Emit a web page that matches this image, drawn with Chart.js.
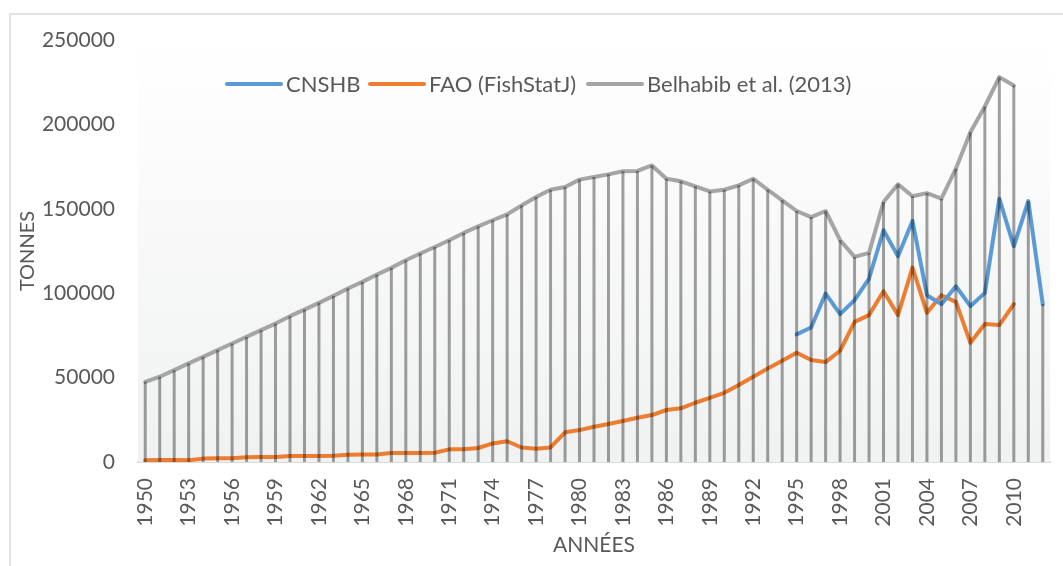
<!DOCTYPE html>
<html>
<head>
<meta charset="utf-8">
<script src="https://cdn.jsdelivr.net/npm/chart.js@4/dist/chart.umd.min.js"></script>
<style>
  html, body { margin: 0; padding: 0; background: #fff; }
  #wrap { position: relative; width: 1063px; height: 566px; overflow: hidden; }
  #frame { position: absolute; left: 9px; top: 13px; width: 1100px; height: 600px;
           border-left: 2px solid #e3e3e3; border-top: 2px solid #e3e3e3; }
  #chart { position: absolute; left: 0; top: 0; }
</style>
</head>
<body>
<div id="wrap">
  <div id="frame"></div>
  <canvas id="chart" width="1063" height="566"></canvas>
</div>
<script>
// Years on the x axis
const years = [
  '1950','1951','1952','1953','1954','1955','1956','1957','1958','1959',
  '1960','1961','1962','1963','1964','1965','1966','1967','1968','1969',
  '1970','1971','1972','1973','1974','1975','1976','1977','1978','1979',
  '1980','1981','1982','1983','1984','1985','1986','1987','1988','1989',
  '1990','1991','1992','1993','1994','1995','1996','1997','1998','1999',
  '2000','2001','2002','2003','2004','2005','2006','2007','2008','2009',
  '2010','2011','2012'
];

// Belhabib et al. (2013), 1950 -> 2010
const belhabib = [
  47500, 50500, 54400, 58400, 62300, 66300, 70200, 74100, 78100, 82000,
  86400, 90300, 94300, 98400, 102800, 106700, 111000, 115000, 119500, 123500,
  127400, 131400, 135700, 139600, 143200, 146700, 152000, 157000, 161300, 162900,
  167300, 168800, 170400, 172200, 172400, 175700, 167800, 166300, 163300, 160300,
  161300, 163900, 167800, 161300, 155000, 148700, 145100, 148700, 131400, 121500,
  123900, 154000, 164500, 157400, 159300, 156000, 173800, 195400, 210600, 228000,
  223100
];

// FAO (FishStatJ), 1950 -> 2010
const fao = [
  1000, 1200, 1200, 1000, 2000, 2200, 2200, 2800, 2900, 2900,
  3500, 3600, 3600, 3700, 4300, 4500, 4500, 5300, 5400, 5400,
  5500, 7500, 7600, 8300, 11000, 12300, 8600, 7900, 8600, 17600,
  18900, 20900, 22500, 24300, 26200, 27800, 30800, 31800, 35100, 38000,
  41000, 45600, 50500, 55400, 60000, 64700, 60400, 59200, 65900, 83000,
  87000, 101200, 87000, 115200, 88400, 98800, 94900, 70600, 81700, 81100,
  93500
];

// CNSHB, 1995 -> 2012
const cnshbStart = '1995';
const cnshb = [
  75600, 79700, 99800, 87600, 95900, 108700, 137300, 121900, 142800, 98800,
  93500, 104100, 92300, 100200, 156000, 127800, 154600, 93500
];

const yTicks = [0, 50000, 100000, 150000, 200000, 250000];

// line the series up on the years
const startIdx = years.indexOf(cnshbStart);
const alignFrom = (arr, from) => years.map((_, i) => {
  const v = arr[i - from];
  return v === undefined ? null : v;
});

const textColor = '#595959';
const FONT = 'Lato, "Open Sans", sans-serif';

// gradient background of the plot area
const plotBg = {
  id: 'plotBg',
  beforeDatasetsDraw(chart) {
    const { ctx, chartArea: a } = chart;
    const g = ctx.createLinearGradient(0, a.top, 0, a.bottom);
    g.addColorStop(0, '#ffffff');
    g.addColorStop(1, '#f0f1f1');
    ctx.save();
    ctx.fillStyle = g;
    ctx.fillRect(a.left, a.top, a.right - a.left, a.bottom - a.top);
    ctx.restore();
  }
};

// excel style drop lines, from the highest series down to 0
const dropLines = {
  id: 'dropLines',
  afterDatasetsDraw(chart) {
    const { ctx, scales: { x, y } } = chart;
    ctx.save();
    ctx.strokeStyle = 'rgba(0,0,0,0.37)';
    ctx.lineWidth = 3;
    years.forEach((_, i) => {
      const vals = chart.data.datasets.map(d => d.data[i]).filter(v => v != null);
      if (!vals.length) return;
      const px = x.getPixelForValue(i);
      ctx.beginPath();
      ctx.moveTo(px, y.getPixelForValue(Math.max(...vals)));
      ctx.lineTo(px, y.getPixelForValue(0));
      ctx.stroke();
    });
    ctx.restore();
  }
};

// legend sits inside the plot area, like the excel one
const innerLegend = {
  id: 'innerLegend',
  afterDraw(chart) {
    const { ctx } = chart;
    const ly = 84;
    const starts = [227, 370, 588];
    ctx.save();
    ctx.font = '22px ' + FONT;
    ctx.textBaseline = 'middle';
    ctx.fillStyle = textColor;
    chart.data.datasets.forEach((d, i) => {
      const sx = starts[i];
      ctx.strokeStyle = d.borderColor;
      ctx.lineWidth = 4;
      ctx.lineCap = 'round';
      ctx.beginPath();
      ctx.moveTo(sx, ly);
      ctx.lineTo(sx + 54, ly);
      ctx.stroke();
      ctx.fillText(d.label, sx + 59, ly + 1);
    });
    ctx.restore();
  }
};

new Chart(document.getElementById('chart'), {
  type: 'line',
  plugins: [plotBg, dropLines, innerLegend],
  data: {
    labels: years,
    datasets: [
      { label: 'CNSHB', data: alignFrom(cnshb, startIdx), borderColor: '#5b9bd5' },
      { label: 'FAO (FishStatJ)', data: alignFrom(fao, 0), borderColor: '#ed7d31' },
      { label: 'Belhabib et al. (2013)', data: alignFrom(belhabib, 0), borderColor: '#a5a5a5' }
    ].map(d => Object.assign(d, {
      borderWidth: 4,
      pointRadius: 0,
      tension: 0,
      borderJoinStyle: 'round',
      borderCapStyle: 'round',
      spanGaps: false
    }))
  },
  options: {
    responsive: false,
    animation: false,
    layout: { padding: { top: 40, right: 13, left: 0, bottom: 0 } },
    plugins: {
      legend: { display: false },
      tooltip: { enabled: false }
    },
    scales: {
      x: {
        offset: true,
        grid: { display: false, drawTicks: false },
        border: { display: true, color: '#d9d9d9', width: 2 },
        ticks: {
          autoSkip: false,
          maxRotation: 90,
          minRotation: 90,
          padding: 16,
          color: textColor,
          font: { family: FONT, size: 21 },
          callback: (v, i) => (i % 3 === 0 ? years[i] : '')
        },
        title: {
          display: true,
          text: 'ANNÉES',
          color: textColor,
          font: { family: FONT, size: 21 },
          padding: { top: 0, bottom: 8 }
        },
        afterFit: s => {
          s.height = 104;
          s.paddingLeft = 0;
          s.paddingRight = 0;
        }
      },
      y: {
        min: 0,
        max: 250000,
        grid: { display: false, drawTicks: false },
        border: { display: false },
        afterBuildTicks: s => { s.ticks = yTicks.map(v => ({ value: v })); },
        ticks: {
          padding: 23,
          color: textColor,
          font: { family: FONT, size: 21 },
          callback: v => String(v)
        },
        title: {
          display: true,
          text: 'TONNES',
          color: textColor,
          font: { family: FONT, size: 20 },
          padding: { top: 16, bottom: 0 }
        },
        afterFit: s => {
          s.width = 138;
          s.paddingTop = 0;
          s.paddingBottom = 0;
        }
      }
    }
  }
});
</script>
</body>
</html>
